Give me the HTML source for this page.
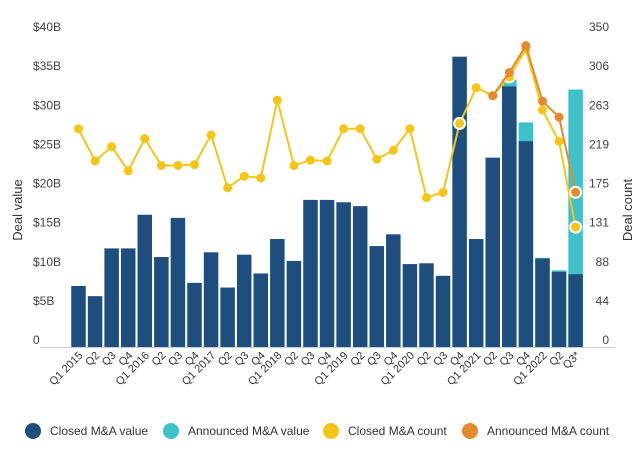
<!DOCTYPE html>
<html><head><meta charset="utf-8"><style>
body{margin:0;background:#fff;}
svg text{font-family:"Liberation Sans",sans-serif;}
</style></head><body>
<svg id="chart" width="640" height="448" viewBox="0 0 640 448" xmlns="http://www.w3.org/2000/svg">
<g id="axes"></g><g id="bars"></g><g id="lines"></g>
<g font-size="12" fill="#333">
 <g><circle cx="33" cy="431" r="8" fill="#1d4e7e"/><text x="50" y="435" fill="#333">Closed M&amp;A value</text></g>
 <g><circle cx="171" cy="431" r="8" fill="#3fc1c9"/><text x="188" y="435" fill="#333">Announced M&amp;A value</text></g>
 <g><circle cx="331" cy="431" r="8" fill="#f5c518"/><text x="348" y="435" fill="#333">Closed M&amp;A count</text></g>
 <g><circle cx="470" cy="431" r="8" fill="#e68a2e"/><text x="487" y="435" fill="#333">Announced M&amp;A count</text></g>
</g>
</svg>
<script>
const categories=["Q1 2015","Q2","Q3","Q4","Q1 2016","Q2","Q3","Q4","Q1 2017","Q2","Q3","Q4","Q1 2018","Q2","Q3","Q4","Q1 2019","Q2","Q3","Q4","Q1 2020","Q2","Q3","Q4","Q1 2021","Q2","Q3","Q4","Q1 2022","Q2","Q3*"];
const closedValue=[7.8,6.5,12.6,12.6,16.9,11.5,16.5,8.2,12.1,7.6,11.8,9.4,13.8,11.0,18.8,18.8,18.5,18.0,12.9,14.4,10.6,10.7,9.1,37.1,13.8,24.2,33.3,26.3,11.3,9.6,9.3];
const announcedValue=[null,null,null,null,null,null,null,null,null,null,null,null,null,null,null,null,null,null,null,null,null,null,null,null,null,null,34.2,28.7,11.4,9.8,32.9];
const closedCount=[244,208,224,197,233,203,203,204,237,178,191,189,276,203,209,208,244,244,210,220,244,167,173,250,290,281,302,333,265,230,134];
const announcedCount=[null,null,null,null,null,null,null,null,null,null,null,null,null,null,null,null,null,null,null,null,null,null,null,null,null,281,307,337,275,257,173];
const leftTicks=["0","$5B","$10B","$15B","$20B","$25B","$30B","$35B","$40B"];
const rightTicks=["0","44","88","131","175","219","263","306","350"];
const NS="http://www.w3.org/2000/svg";
const y0=347,yTop=34;
const yV=v=>y0-v/40*(y0-yTop);
const yC=c=>y0-c/350*(y0-yTop);
const xC=i=>78.5+i*16.57;
const bw=14.5;
function mk(t,a,p){const e=document.createElementNS(NS,t);for(const k in a)e.setAttribute(k,a[k]);p.appendChild(e);return e;}
const axes=document.getElementById('axes'),bars=document.getElementById('bars'),lines=document.getElementById('lines');
const base=mk('line',{x1:40,x2:615,y1:y0+0.5,y2:y0+0.5,stroke:'#ccc','stroke-width':1},axes);


leftTicks.forEach((t,i)=>{const e=mk('text',{x:33,y:yV(i*5)-3,'font-size':12,fill:'#444'},axes);e.textContent=t;

});
rightTicks.forEach((t,i)=>{const e=mk('text',{x:609,y:yV(i*5)-3,'font-size':12,fill:'#444','text-anchor':'end'},axes);e.textContent=t;

});
let e=mk('text',{x:0,y:0,'font-size':13,fill:'#333','text-anchor':'middle',transform:'translate(22,210) rotate(-90)'},axes);e.textContent='Deal value';


e=mk('text',{x:0,y:0,'font-size':13,fill:'#333','text-anchor':'middle',transform:'translate(632,210) rotate(-90)'},axes);e.textContent='Deal count';


categories.forEach((c,i)=>{const t=mk('text',{x:0,y:0,'font-size':11,fill:'#333','text-anchor':'end',transform:`translate(${xC(i)+5},${y0+9}) rotate(-45)`},axes);t.textContent=c;

});
categories.forEach((c,i)=>{
 if(announcedValue[i]!=null){const r=mk('rect',{x:xC(i)-bw/2,y:yV(announcedValue[i]),width:bw,height:y0-yV(announcedValue[i]),fill:'#3fc1c9'},bars);
 
 }
 const r=mk('rect',{x:xC(i)-bw/2,y:yV(closedValue[i]),width:bw,height:y0-yV(closedValue[i]),fill:'#1d4e7e'},bars);
 
 
});
function series(arr,color,name,ring){
 const pts=[];arr.forEach((v,i)=>{if(v!=null)pts.push([xC(i),yC(v),i]);});
 const p=mk('polyline',{points:pts.map(q=>q[0]+','+q[1]).join(' '),fill:'none',stroke:color,'stroke-width':2},lines);
 
 
 pts.forEach(q=>{const r=ring.includes(q[2]);const c=mk('circle',{cx:q[0],cy:q[1],r:r?5.5:4.5,fill:color,stroke:r?'#fff':'none','stroke-width':2},lines);
 
 });
}
series(closedCount,'#f5c518','closed-count',[23,26,30]);
series(announcedCount,'#e68a2e','announced-count',[30]);
</script>
</body></html>
